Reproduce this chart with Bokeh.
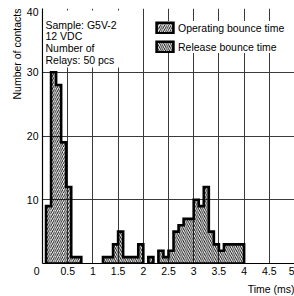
from bokeh.plotting import figure
from bokeh.models import Range1d, Label, BoxAnnotation, Legend, LegendItem, FixedTicker, Title
from bokeh.embed import file_html
from bokeh.resources import INLINE

# ---------------- data ----------------
bin_width = 0.1
operating_start = [0.07, 0.17, 0.27, 0.37, 0.47, 0.57, 0.67]
operating_counts = [9, 30, 28, 19, 12, 1, 1]

release_start = [1.2, 1.3, 1.4, 1.5, 1.6, 1.7, 1.8, 1.9,
                 2.0, 2.1, 2.2, 2.3, 2.4, 2.5, 2.6, 2.7, 2.8, 2.9,
                 3.0, 3.1, 3.2, 3.3, 3.4, 3.5, 3.6, 3.7, 3.8, 3.9]
release_counts = [1, 1, 3, 5, 1, 1, 1, 3,
                  0, 1, 0, 2, 1, 2, 5, 6, 7, 7,
                  10, 9, 12, 5, 3, 2, 3, 3, 3, 3]

x_ticks = [0, 0.5, 1, 1.5, 2, 2.5, 3, 3.5, 4, 4.5, 5]
x_tick_labels = ["0", "0.5", "1", "1.5", "2", "2.5", "3", "3.5", "4", "4.5", "5"]
y_ticks = [10, 20, 30, 40]
y_tick_labels = ["10", "20", "30", "40"]

sample_lines = ["Sample: G5V-2", "12 VDC", "Number of", "Relays: 50 pcs"]
series_names = ["Operating bounce time", "Release bounce time"]
x_title = "Time (ms)"
y_title = "Number of contacts"

# ---------------- layout ----------------
W, H = 294, 296
BL, BB, BT, BR = 42, 33, 8, 0
X_END, Y_END = 5.0, 40
FONT = "Liberation Sans"
FS = "10.5px"
TOP_LABEL_SHIFT = 0.53      # the "40" label sits a little below its gridline
NBSP = "\u00a0"

frame_w = W - BL - BR
frame_h = H - BB - BT
ppx = frame_w / X_END
ppy = frame_h / Y_END


def dx(px):
    return (px - BL) / ppx


def dy(py):
    return (BT + frame_h - py) / ppy


def outline_polys(starts, counts, w):
    xs, ys = [], []
    run = []
    for s, c in list(zip(starts, counts)) + [(None, 0)]:
        if s is not None and c > 0:
            run.append((s, c))
        elif run:
            px, py = [run[0][0]], [0]
            for s0, c0 in run:
                px += [s0, s0 + w]
                py += [c0, c0]
            px.append(run[-1][0] + w)
            py.append(0)
            xs.append(px)
            ys.append(py)
            run = []
    return xs, ys


p = figure(width=W, height=H, output_backend="svg", toolbar_location=None,
           x_range=Range1d(0, X_END), y_range=Range1d(0, Y_END),
           min_border_left=BL, min_border_right=BR,
           min_border_top=BT, min_border_bottom=BB)
p.outline_line_color = None
p.background_fill_color = "white"

# grid
p.xgrid.ticker = FixedTicker(ticks=x_ticks[1:])
p.ygrid.ticker = FixedTicker(ticks=y_ticks)
for g in (p.xgrid, p.ygrid):
    g.grid_line_color = "#3a3a3a"
    g.grid_line_width = 1

# axes
p.xaxis.ticker = FixedTicker(ticks=x_ticks)
overr = {t: l for t, l in zip(x_ticks, x_tick_labels)}
overr[0] = x_tick_labels[0] + NBSP * 4   # corner "0" sits left of the axis
p.xaxis.major_label_overrides = overr

y_label_pos = y_ticks[:-1] + [y_ticks[-1] - TOP_LABEL_SHIFT]
p.yaxis.ticker = FixedTicker(ticks=y_label_pos)
p.yaxis.major_label_overrides = {t: l for t, l in zip(y_label_pos, y_tick_labels)}
for ax in (p.xaxis, p.yaxis):
    ax.axis_line_color = "black"
    ax.axis_line_width = 1.2
    ax.major_tick_out = 0
    ax.major_tick_in = 0
    ax.minor_tick_out = 0
    ax.minor_tick_in = 0
    ax.major_label_text_font = FONT
    ax.major_label_text_font_size = FS
    ax.major_label_text_color = "black"
p.xaxis.major_label_standoff = 1
p.yaxis.major_label_standoff = 4

# histograms
op_xs, op_ys = outline_polys(operating_start, operating_counts, bin_width)
re_xs, re_ys = outline_polys(release_start, release_counts, bin_width)

style = dict(fill_color=None, hatch_color="black", hatch_scale=4.2,
             hatch_weight=0.85, line_color="black", line_width=2.6,
             line_join="miter")
op_r = p.patches(xs=op_xs, ys=op_ys, hatch_pattern="/", **style)
re_r = p.patches(xs=re_xs, ys=re_ys, hatch_pattern="\\", **style)

# white box behind sample text
p.add_layout(BoxAnnotation(left=dx(43), right=dx(121), bottom=dy(67), top=dy(10),
                           fill_color="white", fill_alpha=1, line_color=None))

for i, line in enumerate(sample_lines):
    p.add_layout(Label(x=dx(45), y=dy(24 + i * 11.8), text=line,
                       text_font=FONT, text_font_size=FS, text_color="black",
                       text_align="left", text_baseline="middle"))

# legend
legend = Legend(items=[LegendItem(label=series_names[0], renderers=[op_r]),
                       LegendItem(label=series_names[1], renderers=[re_r])],
                location=(112, 210), orientation="vertical",
                glyph_width=21, glyph_height=13, label_height=13, label_width=20,
                label_standoff=3, spacing=6, padding=4, margin=0,
                border_line_color=None, background_fill_color="white",
                background_fill_alpha=1,
                label_text_font=FONT, label_text_font_size=FS,
                label_text_color="black")
p.add_layout(legend)

# axis titles
yt = Title(text=y_title, align="right", offset=0, standoff=2,
           text_font=FONT, text_font_size=FS, text_font_style="normal",
           text_color="black")
p.add_layout(yt, "left")
xt = Title(text=x_title, align="right", offset=0, standoff=2,
           text_font=FONT, text_font_size=FS, text_font_style="normal",
           text_color="black")
p.add_layout(xt, "below")

open("out.html", "w").write(file_html(p, INLINE))
